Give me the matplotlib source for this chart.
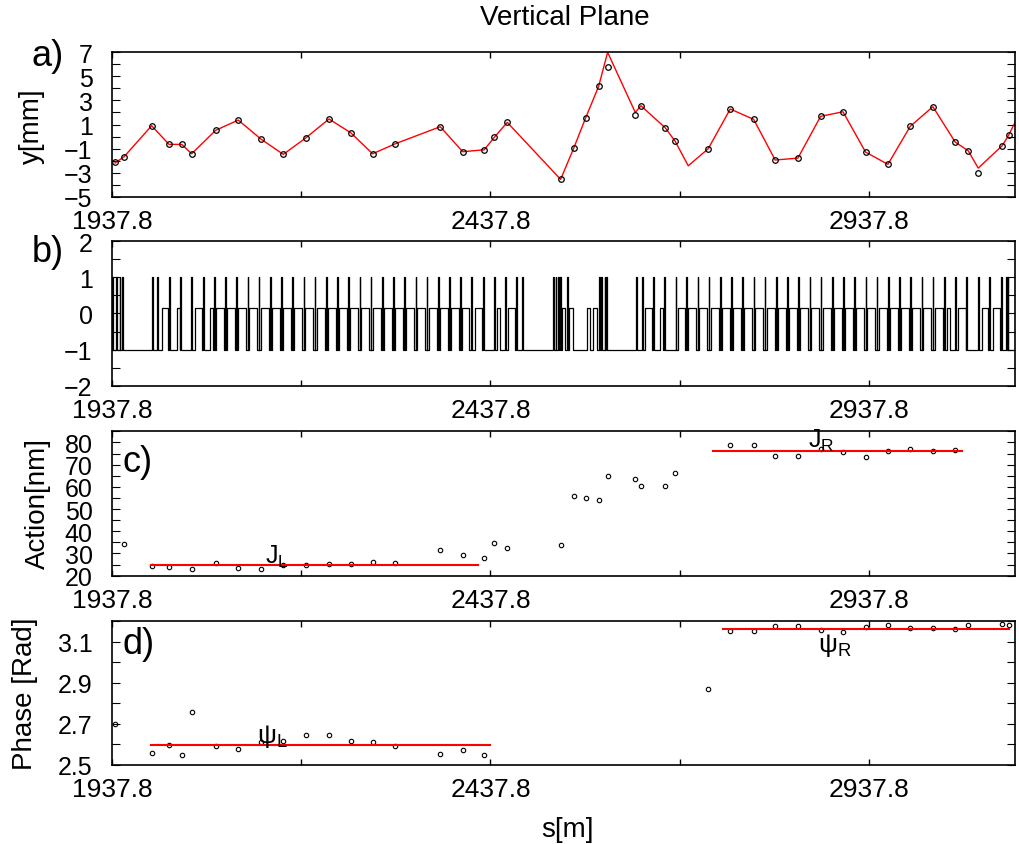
import matplotlib.pyplot as plt
from matplotlib.ticker import MultipleLocator

plt.rcParams['font.family'] = ['Liberation Sans', 'DejaVu Sans']
plt.rcParams['axes.unicode_minus'] = True

# BPM positions [m] and measured vertical orbit [mm]
meas_s = [1941.8, 1953.7, 1990.2, 2013.1, 2029.9, 2043.1, 2074.8, 2104.6, 2134.6, 2164.1,
          2193.7, 2224.5, 2253.1, 2282.2, 2312.0, 2371.5, 2401.1, 2429.6, 2442.8, 2460.0,
          2530.5, 2547.7, 2563.6, 2580.7, 2592.6, 2629.1, 2636.6, 2668.7, 2681.9, 2725.5,
          2754.6, 2785.5, 2814.0, 2844.0, 2874.0, 2903.5, 2933.4, 2962.9, 2992.4, 3022.3,
          3051.8, 3069.0, 3082.2, 3113.9, 3122.3]
meas_y = [-2.14, -1.68, 0.90, -0.65, -0.65, -1.43, 0.52, 1.37, -0.21, -1.48,
          -0.12, 1.46, 0.32, -1.43, -0.60, 0.82, -1.26, -1.10, -0.07, 1.18,
          -3.56, -0.98, 1.56, 4.17, 5.75, 1.79, 2.56, 0.73, -0.40, -1.01,
          2.29, 1.43, -1.95, -1.79, 1.68, 2.06, -1.29, -2.31, 0.85, 2.48,
          -0.46, -1.18, -3.06, -0.76, 0.10]

# model orbit (red)
fit_s = [1941.8, 1953.7, 1990.2, 2013.1, 2029.9, 2043.1, 2074.8, 2104.6, 2134.6, 2164.1,
         2193.7, 2224.5, 2253.1, 2282.2, 2312.0, 2371.5, 2401.1, 2429.6, 2442.8, 2460.0,
         2530.5, 2547.7, 2563.6, 2580.7, 2592.6, 2629.1, 2636.6, 2668.7, 2681.9, 2699.1,
         2725.5, 2754.6, 2785.5, 2814.0, 2844.0, 2874.0, 2903.5, 2933.4, 2962.9, 2992.4,
         3022.3, 3051.8, 3069.0, 3082.2, 3113.9, 3122.3, 3131.0]
fit_y = [-2.20, -1.68, 0.90, -0.65, -0.65, -1.43, 0.52, 1.37, -0.21, -1.48,
         -0.12, 1.46, 0.32, -1.43, -0.60, 0.82, -1.26, -1.10, -0.07, 1.18,
         -3.56, -0.98, 1.56, 4.17, 7.00, 2.01, 2.56, 0.73, -0.40, -2.43,
         -1.01, 2.29, 1.43, -1.95, -1.79, 1.68, 2.06, -1.29, -2.31, 0.85,
         2.48, -0.46, -1.18, -2.62, -0.76, 0.10, 1.20]

# lattice: quadrupoles (thin, height 1) and dipoles (height 0.15)
quad_s = [1938.7, 1944.0, 1948.4, 1951.9, 1991.6, 1998.2, 2013.5, 2028.6, 2043.1, 2058.4,
          2073.0, 2087.8, 2102.6, 2117.4, 2132.2, 2147.0, 2161.8, 2176.6, 2191.4, 2206.2,
          2221.0, 2235.8, 2250.6, 2265.4, 2280.2, 2295.0, 2309.8, 2324.6, 2339.4, 2354.2,
          2369.0, 2383.8, 2398.6, 2413.0, 2428.3, 2442.8, 2457.9, 2472.4, 2480.3, 2520.8,
          2524.3, 2527.4, 2530.5, 2539.2, 2581.5, 2584.7, 2589.1, 2591.3, 2630.9, 2638.8,
          2652.9, 2667.4, 2682.8, 2697.0, 2711.8, 2726.6, 2741.4, 2756.2, 2771.0, 2785.8,
          2800.6, 2815.4, 2830.2, 2845.0, 2859.8, 2874.6, 2889.4, 2904.2, 2919.0, 2933.8,
          2948.6, 2963.4, 2978.2, 2993.0, 3007.8, 3022.6, 3037.4, 3052.3, 3066.8, 3082.2,
          3097.4, 3112.9, 3119.5, 3121.7]
bend_s0 = [2003.4, 2023.3, 2047.4, 2067.3,
           2075.0, 2089.8, 2104.6, 2119.4, 2134.2, 2149.0, 2163.8, 2178.6, 2193.4, 2208.2,
           2223.0, 2237.8, 2252.6, 2267.4, 2282.2, 2297.0, 2311.8, 2326.6, 2341.4, 2356.2,
           2371.0, 2385.8, 2400.6, 2417.3, 2446.0, 2461.4,
           2531.8, 2541.9, 2564.9, 2573.6,
           2641.9, 2661.7, 2685.9,
           2699.0, 2713.8, 2728.6, 2743.4, 2758.2, 2773.0, 2787.8, 2802.6, 2817.4, 2832.2,
           2847.0, 2861.8, 2876.6, 2891.4, 2906.2, 2921.0, 2935.8, 2950.6, 2965.4, 2980.2,
           2995.0, 3009.8, 3024.6, 3040.4, 3055.8, 3086.7, 3102.0]
bend_s1 = [2012.2, 2027.6, 2056.3, 2071.6,
           2085.5, 2100.3, 2115.1, 2129.9, 2144.7, 2159.5, 2174.3, 2189.1, 2203.9, 2218.7,
           2233.5, 2248.3, 2263.1, 2277.9, 2292.7, 2307.5, 2322.3, 2337.1, 2351.9, 2366.7,
           2381.5, 2396.3, 2410.0, 2426.2, 2450.4, 2470.2,
           2536.2, 2546.4, 2569.3, 2578.1,
           2650.7, 2666.1, 2694.7,
           2709.5, 2724.3, 2739.1, 2753.9, 2768.7, 2783.5, 2798.3, 2813.1, 2827.9, 2842.7,
           2857.5, 2872.3, 2887.1, 2901.9, 2916.7, 2931.5, 2946.3, 2961.1, 2975.9, 2990.7,
           3005.5, 3020.3, 3035.1, 3044.8, 3066.0, 3095.6, 3110.8]
quad_len = 0.8
quad_h = 1.0
bend_h = 0.15

# action [nm]
act_s = [1953.7, 1990.2, 2013.1, 2043.1, 2074.8, 2104.6, 2134.6, 2164.1, 2193.7, 2224.5,
         2253.1, 2282.2, 2312.0, 2371.5, 2401.1, 2429.6, 2442.8, 2460.0, 2530.5, 2547.7,
         2563.6, 2580.7, 2592.6, 2629.1, 2636.6, 2668.7, 2681.9, 2754.6, 2785.5, 2814.0,
         2844.0, 2874.0, 2903.5, 2933.4, 2962.9, 2992.4, 3022.3, 3051.8]
act_J = [34.2, 24.3, 24.0, 23.1, 25.5, 23.4, 23.1, 24.9, 24.8, 25.4,
         25.2, 26.3, 25.8, 31.5, 29.4, 27.9, 34.6, 32.5, 33.7, 55.7,
         54.8, 54.2, 65.1, 63.7, 60.5, 60.5, 66.1, 78.7, 78.7, 74.1,
         74.1, 76.9, 75.7, 73.6, 76.0, 77.0, 76.3, 76.4]
JL, JL_range = 24.9, (1989.3, 2421.3)
JR, JR_range = 76.0, (2732.1, 3060.2)

# phase [rad]
ph_s = [1941.8, 1990.2, 2013.1, 2029.9, 2043.1, 2074.8, 2104.6, 2134.6, 2164.1, 2193.7,
        2224.5, 2253.1, 2282.2, 2312.0, 2371.5, 2401.1, 2429.6, 2725.5, 2754.6, 2785.5,
        2814.0, 2844.0, 2874.0, 2903.5, 2933.4, 2962.9, 2992.4, 3022.3, 3051.8, 3069.0,
        3113.9, 3122.3]
ph = [2.697, 2.558, 2.597, 2.545, 2.758, 2.592, 2.577, 2.611, 2.616, 2.644,
      2.644, 2.615, 2.610, 2.592, 2.552, 2.573, 2.545, 2.870, 3.153, 3.152,
      3.174, 3.174, 3.155, 3.148, 3.172, 3.181, 3.166, 3.165, 3.161, 3.179,
      3.184, 3.181]
PL, PL_range = 2.595, (1989.3, 2437.8)
PR, PR_range = 3.163, (2745.4, 3123.3)

s_min, s_max = 1937.8, 3130.8
xt = [1937.8, 2187.8, 2437.8, 2687.8, 2937.8]
xtl = ['1937.8', '', '2437.8', '', '2937.8']

fig = plt.figure(figsize=(10.2, 8.45), dpi=100)
L, W, H = 0.1098, 0.8853, 0.1709
ax_a = fig.add_axes([L, 0.766, W, H])
ax_b = fig.add_axes([L, 0.5424, W, H])
ax_c = fig.add_axes([L, 0.3175, W, H])
ax_d = fig.add_axes([L, 0.0938, W, 0.1701])


def setup(ax, ylim, yticks, yminor):
    ax.set_xlim(s_min, s_max)
    ax.set_ylim(*ylim)
    ax.set_xticks(xt)
    ax.set_xticklabels(xtl)
    ax.set_yticks(yticks)
    ax.yaxis.set_minor_locator(MultipleLocator(yminor))
    ax.tick_params(axis='x', which='major', direction='in', top=True, bottom=True,
                   length=4, width=1, labelsize=19, pad=9)
    ax.tick_params(axis='y', which='both', direction='in', left=True, right=True,
                   length=5.5, width=0.8, labelsize=18, pad=14)
    for sp in ax.spines.values():
        sp.set_linewidth(1.2)


# a) orbit
ax_a.plot(fit_s, fit_y, color='red', lw=1.0)
ax_a.plot(meas_s, meas_y, 'o', mfc='none', mec='black', ms=4, mew=0.9)
setup(ax_a, (-5, 7), [-5, -3, -1, 1, 3, 5, 7], 1)

# b) lattice drawn as one outline
elems = [(q - quad_len / 2, q + quad_len / 2, quad_h) for q in quad_s]
elems += [(a, b, bend_h) for a, b in zip(bend_s0, bend_s1)]
elems.sort()
px, py = [s_min], [-1]
for a, b, h in elems:
    px += [a, a, b, b]
    py += [-1, h, h, -1]
px.append(s_max)
py.append(-1)
ax_b.plot(px, py, color='black', lw=0.9)
setup(ax_b, (-2, 2), [-2, -1, 0, 1, 2], 0.5)

# c) action
ax_c.plot(act_s, act_J, 'o', mfc='none', mec='black', ms=3.2, mew=0.8)
ax_c.plot(JL_range, [JL, JL], color='red', lw=1.5)
ax_c.plot(JR_range, [JR, JR], color='red', lw=1.5)
ax_c.text(2139.9, 25.9, r'J$_\mathregular{L}$', fontsize=18)
ax_c.text(2857.2, 78.1, r'J$_\mathregular{R}$', fontsize=18)
setup(ax_c, (20, 85), [20, 30, 40, 50, 60, 70, 80], 5)

# d) phase
ax_d.plot(ph_s, ph, 'o', mfc='none', mec='black', ms=3.2, mew=0.8)
ax_d.plot(PL_range, [PL, PL], color='red', lw=1.5)
ax_d.plot(PR_range, [PR, PR], color='red', lw=1.5)
ax_d.text(2129.4, 2.61, r'ψ$_\mathregular{L}$', fontsize=19)
ax_d.text(2870.4, 3.055, r'ψ$_\mathregular{R}$', fontsize=19)
setup(ax_d, (2.5, 3.2), [2.5, 2.7, 2.9, 3.1], 0.1)

fig.text(0.5539, 0.9787, 'Vertical Plane', fontsize=20, ha='center', va='center')
fig.text(0.0314, 0.8509, 'y[mm]', fontsize=20, rotation=90, ha='center', va='center')
fig.text(0.0368, 0.4036, 'Action[nm]', fontsize=20, rotation=90, ha='center', va='center')
fig.text(0.0245, 0.1787, 'Phase [Rad]', fontsize=20, rotation=90, ha='center', va='center')
fig.text(0.5559, 0.0178, 's[m]', fontsize=20, ha='center', va='center')
fig.text(0.0471, 0.9337, 'a)', fontsize=26, ha='center', va='center')
fig.text(0.0471, 0.7006, 'b)', fontsize=26, ha='center', va='center')
fig.text(0.1353, 0.4521, 'c)', fontsize=26, ha='center', va='center')
fig.text(0.1363, 0.2367, 'd)', fontsize=26, ha='center', va='center')

fig.savefig('out.png', dpi=100)
